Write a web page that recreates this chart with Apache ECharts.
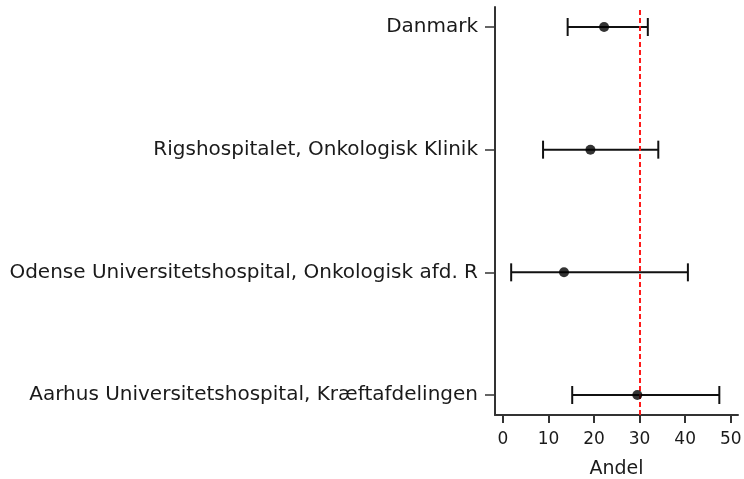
<!DOCTYPE html>
<html>
<head>
<meta charset="utf-8">
<style>
  html, body { margin: 0; padding: 0; background: #fff; }
  #chart { width: 744px; height: 479px; }
</style>
<script src="https://cdn.jsdelivr.net/npm/echarts@6/dist/echarts.min.js"></script>
</head>
<body>
<div id="chart"></div>
<script>
// Units, listed bottom to top
const units = [
  'Aarhus Universitetshospital, Kræftafdelingen',
  'Odense Universitetshospital, Onkologisk afd. R',
  'Rigshospitalet, Onkologisk Klinik',
  'Danmark'
];
// Share (Andel, %) with confidence limits
const estimate = [29.5, 13.4, 19.2, 22.2];
const lower    = [15.2, 1.8, 8.8, 14.2];
const upper    = [47.5, 40.6, 34.1, 31.8];
const xTicks = [0, 10, 20, 30, 40, 50];
const targetLevel = 30;

const positions = units.map((_, i) => i + 1);
const pointData = estimate.map((v, i) => [v, positions[i]]);
const ciData = lower.map((lo, i) => [lo, upper[i], positions[i]]);

const chart = echarts.init(document.getElementById('chart'));
const fontFamily = '"DejaVu Sans", sans-serif';
const axisColor = '#333';
const textColor = '#1a1a1a';

chart.setOption({
  animation: false,
  backgroundColor: '#fff',
  grid: { left: 495, right: 6, top: 7, bottom: 64, containLabel: false, outerBoundsMode: 'none' },
  xAxis: {
    type: 'value',
    min: -1.75,
    max: 51.6,
    name: 'Andel',
    nameLocation: 'middle',
    nameGap: 45,
    nameTextStyle: { fontFamily, fontSize: 19, color: textColor },
    axisLine: { show: true, onZero: false, lineStyle: { color: axisColor, width: 2 } },
    axisTick: { show: true, length: 8, customValues: xTicks, lineStyle: { color: axisColor, width: 2 } },
    axisLabel: { customValues: xTicks, margin: 16, fontFamily, fontSize: 17, color: textColor },
    splitLine: { show: false }
  },
  yAxis: {
    type: 'value',
    min: 0.837,
    max: 4.163,
    axisLine: { show: true, onZero: false, lineStyle: { color: axisColor, width: 2 } },
    axisTick: { show: true, length: 10, customValues: positions, lineStyle: { color: axisColor, width: 1.5 } },
    axisLabel: {
      customValues: positions,
      margin: 17,
      fontFamily, fontSize: 20, color: textColor,
      formatter: (v) => units[Math.round(v) - 1] || ''
    },
    splitLine: { show: false }
  },
  series: [
    {
      type: 'custom',
      data: ciData,
      encode: { x: [0, 1], y: 2 },
      renderItem: (params, api) => {
        const a = api.coord([api.value(0), api.value(2)]);
        const b = api.coord([api.value(1), api.value(2)]);
        const cap = 9;
        const style = { stroke: '#111', lineWidth: 2 };
        return {
          type: 'group',
          children: [
            { type: 'line', shape: { x1: a[0], y1: a[1], x2: b[0], y2: b[1] }, style },
            { type: 'line', shape: { x1: a[0], y1: a[1] - cap, x2: a[0], y2: a[1] + cap }, style },
            { type: 'line', shape: { x1: b[0], y1: b[1] - cap, x2: b[0], y2: b[1] + cap }, style }
          ]
        };
      },
      z: 2
    },
    {
      type: 'scatter',
      data: pointData,
      symbol: 'circle',
      symbolSize: 10,
      itemStyle: { color: '#000' },
      z: 4,
      markLine: {
        silent: true,
        symbol: 'none',
        label: { show: false },
        lineStyle: { color: '#ff1a1a', width: 2, type: [5, 3] },
        data: [{ xAxis: targetLevel }],
        z: 3
      }
    }
  ]
});
</script>
</body>
</html>
